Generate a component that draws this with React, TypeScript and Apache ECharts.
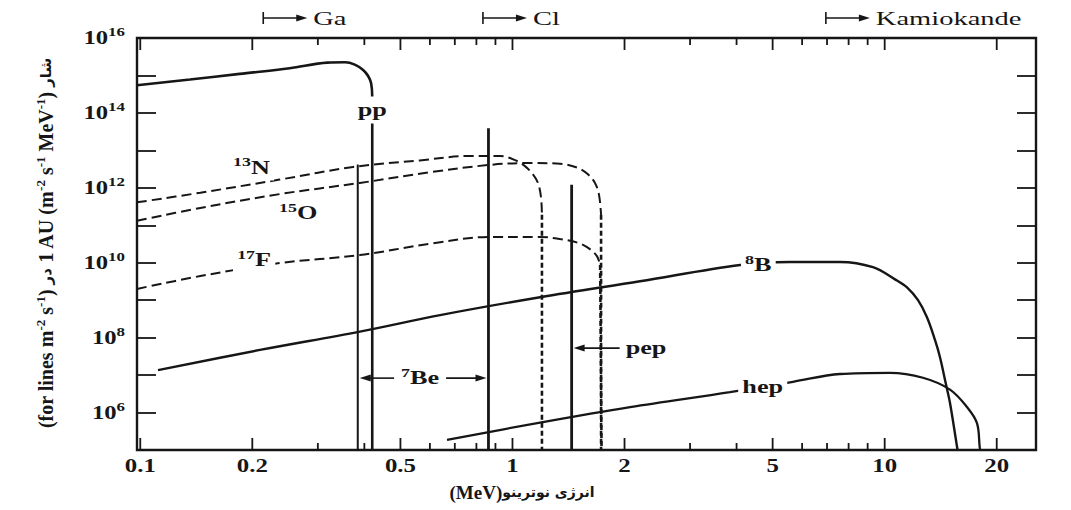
import React, { useEffect, useRef } from "react";
import * as echarts from "echarts";

type Pt = [number, number];

// ---- values: neutrino energy (MeV), flux at 1 AU (m^-2 s^-1 MeV^-1) ----
const ppSpectrum: Pt[] = [
  [0.098, 5.5e14], [0.136, 7.8e14], [0.185, 1.1e15], [0.252, 1.55e15],
  [0.318, 2.2e15], [0.355, 2.25e15], [0.377, 1.95e15], [0.397, 1.4e15],
  [0.409, 9.8e14], [0.417, 6.3e14], [0.42, 2.6e14], [0.42, 1e5],
];
const n13Spectrum: Pt[] = [
  [0.098, 4.1e11], [0.145, 7.4e11], [0.237, 1.66e12], [0.373, 3.6e12],
  [0.564, 5.4e12], [0.769, 7.1e12], [0.926, 7.1e12], [1.016, 5.5e12],
  [1.08, 3.8e12], [1.135, 2.3e12], [1.171, 1.35e12], [1.193, 5.6e11],
  [1.2, 1.9e11], [1.2, 1e5],
];
const o15Spectrum: Pt[] = [
  [0.098, 1.32e11], [0.145, 2.9e11], [0.237, 6.8e11], [0.389, 1.35e12],
  [0.6, 2.6e12], [0.87, 4.1e12], [1.114, 4.6e12], [1.341, 4.4e12],
  [1.5, 3.4e12], [1.595, 2.3e12], [1.666, 1.35e12], [1.708, 6.5e11],
  [1.73, 1.9e11], [1.73, 1e5],
];
const f17Spectrum: Pt[] = [
  [0.098, 2.0e9], [0.145, 4.4e9], [0.237, 9.8e9], [0.389, 1.6e10],
  [0.6, 3.2e10], [0.87, 4.9e10], [1.186, 4.9e10], [1.341, 4.3e10],
  [1.5, 3.4e10], [1.615, 2.3e10], [1.686, 1.5e10], [1.72, 8.7e9],
  [1.735, 1e5],
];
const b8Spectrum: Pt[] = [
  [0.1116, 1.36e7], [0.2097, 4.7e7], [0.389, 1.45e8], [0.639, 4.0e8],
  [1.186, 1.2e9], [2.2, 3.2e9], [4.09, 8.7e9], [5.57, 1.05e10],
  [7.58, 1.05e10], [9.3, 7.6e9], [10.66, 3.6e9], [11.48, 2.2e9],
  [12.29, 1.0e9], [12.99, 3.5e8], [13.65, 8.7e7], [14.08, 3.0e7],
  [14.62, 5.5e6], [14.98, 1.8e6], [15.65, 1.2e5], [15.7, 1e5],
];
const hepSpectrum: Pt[] = [
  [0.667, 1.86e5], [1.186, 5.4e5], [2.07, 1.4e6], [3.84, 3.5e6],
  [5.67, 6.6e6], [7.58, 1.07e7], [10.33, 1.15e7], [12.67, 8.5e6],
  [14.98, 4.1e6], [16.64, 1.4e6], [17.7, 5.2e5], [18.0, 1.2e5], [18.05, 1e5],
];

// monoenergetic lines (m^-2 s^-1)
const lineNames = ["7Be 0.384", "7Be 0.862", "pep"];
const lineEnergies = [0.384, 0.862, 1.442];
const lineFluxes = [4.2e12, 3.9e13, 1.2e12];

// axes
const xTickValues = [0.1, 0.2, 0.3, 0.4, 0.5, 0.6, 0.7, 0.8, 0.9, 1, 2, 3, 4, 5, 6, 7, 8, 9, 10, 20];
const xLabelValues = [0.1, 0.2, 0.5, 1, 2, 5, 10, 20];
const xTickLabels = ["0.1", "0.2", "0.5", "1", "2", "5", "10", "20"];
const yLabelExponents = [6, 8, 10, 12, 14, 16];

// detector thresholds along the top
const detectorNames = ["Ga", "Cl", "Kamiokande"];
const detectorThresholds = [0.214, 0.833, 6.95];

// curve labels
const curveLabelSup = ["13", "15", "17", "", "8", ""];
const curveLabelMain = ["N", "O", "F", "pp", "B", "hep"];
const curveLabelE = [0.173, 0.23, 0.1775, 0.42, 4.11, 4.04];
const curveLabelF = [3.4e12, 2.1e11, 1.17e10, 1.2e14, 8.7e9, 4.8e6];

const be7BracketFlux = 8.3e6;
const pepArrowFlux = 5.25e7;

// ---- style ----
const INK = "#161616";
const SERIF = "'Liberation Serif', 'Times New Roman', serif";
const ARABIC = "'DejaVu Sans', 'Noto Sans', sans-serif";
const STRETCH = 1.38;
const X_MIN = 0.098;
const X_MAX = 25.5;
const Y_MIN = 5;
const Y_MAX = 16;
const LOG = (v: number) => Math.log10(v);

function supRich(main: number, sup: number, weight: string = "bold") {
  return {
    m: { fontFamily: SERIF, fontWeight: weight, fontSize: main, lineHeight: main + 6, fill: INK },
    s: { fontFamily: SERIF, fontWeight: weight, fontSize: sup, verticalAlign: "top", fill: INK },
  };
}

// x: energy on a log axis; y: log10(flux) on a value axis
function lineSeries(name: string, pts: Pt[], lineStyle: any, smooth: number | boolean = false) {
  return {
    type: "line",
    name,
    data: pts.map(([e, f]) => [e, LOG(f)]),
    symbol: "none",
    showSymbol: false,
    silent: true,
    smooth,
    z: 2,
    lineStyle,
  };
}

function dashedWithDrop(name: string, pts: Pt[]) {
  return [
    lineSeries(name, pts.slice(0, -1), { color: INK, width: 2, type: [10, 5] }, 0.35),
    lineSeries(name + " drop", pts.slice(-2), { color: INK, width: 2.6, type: [5, 3] }),
  ];
}

function arrowHead(tipX: number, y: number, dir: number) {
  return {
    type: "polygon",
    shape: { points: [[tipX, y], [tipX - dir * 11, y - 3.5], [tipX - dir * 11, y + 3.5]] },
    style: { fill: INK },
  };
}

function buildOption() {
  const thin = { stroke: INK, lineWidth: 1.6 };
  const tick = { stroke: INK, lineWidth: 1.8 };

  const series: any[] = [
    lineSeries("pp", ppSpectrum, { color: INK, width: 2.6 }, 0.35),
    ...dashedWithDrop("13N", n13Spectrum),
    ...dashedWithDrop("15O", o15Spectrum),
    ...dashedWithDrop("17F", f17Spectrum),
    lineSeries("8B", b8Spectrum, { color: INK, width: 2.4 }, 0.35),
    lineSeries("hep", hepSpectrum, { color: INK, width: 2.3 }, 0.35),
    ...lineEnergies.map((e, i) =>
      lineSeries(lineNames[i], [[e, 10 ** Y_MIN], [e, lineFluxes[i]]], { color: INK, width: i === 0 ? 2 : 2.8 })
    ),
    // x ticks (bottom & top) and labels
    {
      type: "custom",
      name: "xTicks",
      silent: true,
      z: 4,
      data: xTickValues.map((v) => [v, Y_MIN]),
      encode: { x: 0, y: 1 },
      renderItem: (params: any, api: any) => {
        const v = xTickValues[params.dataIndex];
        const b = api.coord([v, Y_MIN]);
        const t = api.coord([v, Y_MAX]);
        const li = xLabelValues.indexOf(v);
        const len = li >= 0 ? 12 : 7;
        const children: any[] = [
          { type: "line", shape: { x1: b[0], y1: b[1], x2: b[0], y2: b[1] - len }, style: tick },
          { type: "line", shape: { x1: t[0], y1: t[1], x2: t[0], y2: t[1] + len }, style: tick },
        ];
        if (li >= 0) {
          children.push({
            type: "text",
            x: b[0],
            y: b[1] + 16,
            scaleX: STRETCH,
            style: {
              text: xTickLabels[li],
              fontFamily: SERIF,
              fontWeight: "bold",
              fontSize: 18,
              fill: INK,
              align: "center",
              verticalAlign: "middle",
            },
          });
        }
        return { type: "group", children };
      },
    },
    // 10^n labels on the left
    {
      type: "custom",
      name: "yLabels",
      silent: true,
      z: 4,
      data: yLabelExponents.map((e) => [X_MIN, e]),
      encode: { x: 0, y: 1 },
      renderItem: (params: any, api: any) => {
        const e = yLabelExponents[params.dataIndex];
        const p = api.coord([X_MIN, e]);
        return {
          type: "text",
          x: p[0] - 12,
          y: p[1],
          scaleX: 1.3,
          style: {
            text: `{m|10}{s|${e}}`,
            rich: supRich(19, 13),
            fill: INK,
            align: "right",
            verticalAlign: "middle",
          },
        };
      },
    },
    // detector thresholds
    {
      type: "custom",
      name: "detectors",
      silent: true,
      z: 4,
      data: detectorThresholds.map((e) => [e, Y_MAX]),
      encode: { x: 0, y: 1 },
      renderItem: (params: any, api: any) => {
        const p = api.coord([detectorThresholds[params.dataIndex], Y_MAX]);
        const x = p[0];
        const y = p[1] - 20;
        return {
          type: "group",
          children: [
            { type: "line", shape: { x1: x, y1: y - 6, x2: x, y2: y + 6 }, style: thin },
            { type: "line", shape: { x1: x, y1: y, x2: x + 34, y2: y }, style: thin },
            arrowHead(x + 44, y, 1),
            {
              type: "text",
              x: x + 50,
              y,
              scaleX: 1.5,
              style: {
                text: detectorNames[params.dataIndex],
                fontFamily: SERIF,
                fontSize: 19,
                fill: INK,
                align: "left",
                verticalAlign: "middle",
              },
            },
          ],
        };
      },
    },
    // curve labels
    {
      type: "custom",
      name: "curveLabels",
      silent: true,
      z: 6,
      data: curveLabelE.map((e, i) => [e, LOG(curveLabelF[i])]),
      encode: { x: 0, y: 1 },
      renderItem: (params: any, api: any) => {
        const i = params.dataIndex;
        const p = api.coord([curveLabelE[i], LOG(curveLabelF[i])]);
        const sup = curveLabelSup[i];
        const main = curveLabelMain[i];
        return {
          type: "text",
          x: p[0],
          y: p[1],
          scaleX: STRETCH,
          style: {
            text: sup ? `{s|${sup}}{m|${main}}` : `{m|${main}}`,
            rich: supRich(19, 13),
            fill: INK,
            align: main === "pp" ? "center" : "left",
            verticalAlign: "middle",
            backgroundColor: "#ffffff",
            padding: main === "pp" ? [1, 2] : [0, 3],
          },
        };
      },
    },
    // 7Be bracket between the two 7Be lines
    {
      type: "custom",
      name: "be7Bracket",
      silent: true,
      z: 6,
      data: [[lineEnergies[0], LOG(be7BracketFlux)]],
      encode: { x: 0, y: 1 },
      renderItem: (params: any, api: any) => {
        const a = api.coord([lineEnergies[0], LOG(be7BracketFlux)]);
        const b = api.coord([lineEnergies[1], LOG(be7BracketFlux)]);
        const y = a[1];
        const cx = (a[0] + b[0]) / 2 - 3;
        return {
          type: "group",
          children: [
            { type: "line", shape: { x1: cx - 26, y1: y, x2: a[0] + 10, y2: y }, style: thin },
            arrowHead(a[0] + 2, y, -1),
            { type: "line", shape: { x1: cx + 26, y1: y, x2: b[0] - 10, y2: y }, style: thin },
            arrowHead(b[0] - 2, y, 1),
            {
              type: "text",
              x: cx,
              y,
              scaleX: STRETCH,
              style: {
                text: "{s|7}{m|Be}",
                rich: supRich(19, 13),
                fill: INK,
                align: "center",
                verticalAlign: "middle",
              },
            },
          ],
        };
      },
    },
    // pep arrow
    {
      type: "custom",
      name: "pepArrow",
      silent: true,
      z: 6,
      data: [[lineEnergies[2], LOG(pepArrowFlux)]],
      encode: { x: 0, y: 1 },
      renderItem: (params: any, api: any) => {
        const p = api.coord([lineEnergies[2], LOG(pepArrowFlux)]);
        const y = p[1];
        return {
          type: "group",
          children: [
            { type: "line", shape: { x1: p[0] + 10, y1: y, x2: p[0] + 48, y2: y }, style: thin },
            arrowHead(p[0] + 2, y, -1),
            {
              type: "text",
              x: p[0] + 54,
              y,
              scaleX: STRETCH,
              style: {
                text: "{m|pep}",
                rich: supRich(19, 13),
                fill: INK,
                align: "left",
                verticalAlign: "middle",
              },
            },
          ],
        };
      },
    },
  ];

  const yTitleRich = {
    t: { fontFamily: SERIF, fontWeight: "bold", fontSize: 20, lineHeight: 25, fill: INK },
    s: { fontFamily: SERIF, fontWeight: "bold", fontSize: 13, verticalAlign: "top", fill: INK },
    p: { fontFamily: ARABIC, fontWeight: "bold", fontSize: 15, fill: INK },
  };
  const yTitle =
    "{t|(for lines m}{s|-2}{t| s}{s|-1}{t|) }{p|در}{t| 1 AU (m}{s|-2}{t| s}{s|-1}{t| MeV}{s|-1}{t|) }{p|شار}";

  const yAxisBase = {
    type: "value",
    min: Y_MIN,
    max: Y_MAX,
    interval: 1,
    axisLine: { show: false, onZero: false },
    axisTick: { show: true, inside: true, length: 19, lineStyle: { color: INK, width: 1.8 } },
    axisLabel: { show: false },
    splitLine: { show: false },
  };

  return {
    animation: false,
    backgroundColor: "#ffffff",
    grid: { left: 137, right: 35, top: 38, bottom: 60, show: true, borderColor: INK, borderWidth: 2.4, backgroundColor: "transparent" },
    xAxis: {
      type: "log",
      logBase: 10,
      min: X_MIN,
      max: X_MAX,
      axisLine: { show: false, onZero: false },
      axisTick: { show: false },
      axisLabel: { show: false },
      splitLine: { show: false },
      minorTick: { show: false },
      minorSplitLine: { show: false },
    },
    yAxis: [
      { ...yAxisBase, position: "left" },
      { ...yAxisBase, position: "right" },
    ],
    graphic: [
      {
        type: "text",
        x: 46,
        y: 243,
        rotation: Math.PI / 2,
        silent: true,
        style: { text: yTitle, rich: yTitleRich, fill: INK, align: "center", verticalAlign: "middle" },
      },
      {
        type: "text",
        x: 522,
        y: 492,
        silent: true,
        style: {
          text: "{a|(MeV)}{p|انرژی نوترینو}",
          rich: {
            a: { fontFamily: SERIF, fontWeight: "bold", fontSize: 19, fill: INK },
            p: { fontFamily: ARABIC, fontWeight: "bold", fontSize: 14, fill: INK },
          },
          fill: INK,
          align: "center",
          verticalAlign: "middle",
        },
      },
    ],
    series,
  };
}

export default function App() {
  const ref = useRef<HTMLDivElement>(null);
  useEffect(() => {
    if (!ref.current) return;
    const chart = echarts.init(ref.current, undefined, { renderer: "svg" });
    chart.setOption(buildOption() as any);
    return () => chart.dispose();
  }, []);
  return (
    <div
      ref={ref}
      style={{ position: "fixed", left: 0, top: 0, width: 1071, height: 510, background: "#ffffff" }}
    />
  );
}
